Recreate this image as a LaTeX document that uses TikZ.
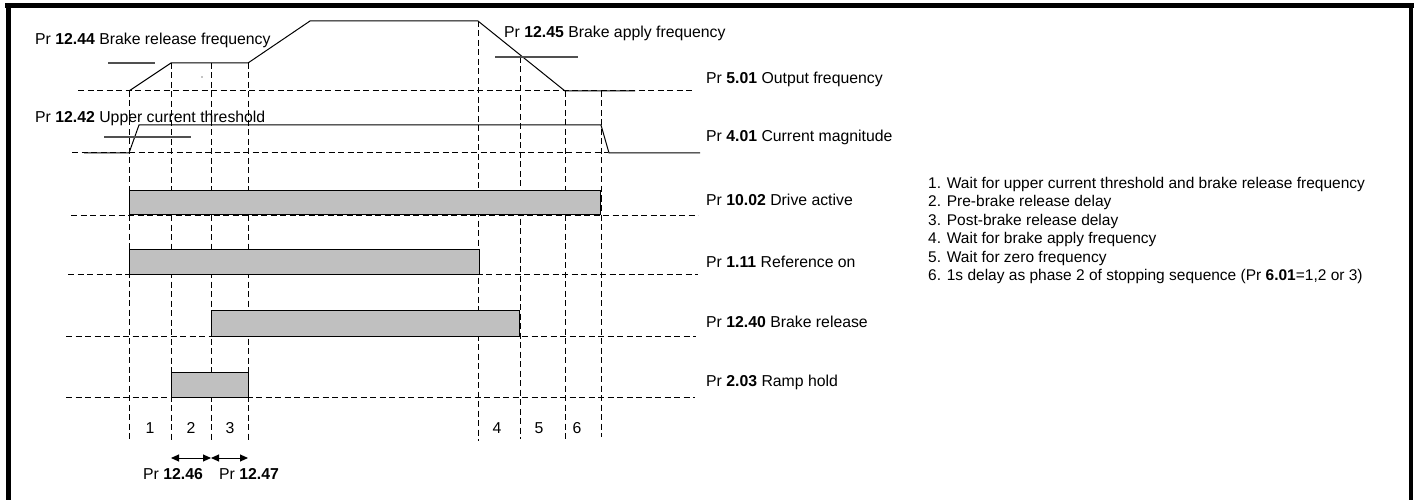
\documentclass[tikz,border=0pt]{standalone}
\usepackage{fontspec}
\setmainfont{Liberation Sans}
\usetikzlibrary{arrows.meta}
\definecolor{barfill}{HTML}{C0C0C0}
\definecolor{thrgray}{HTML}{505050}
\begin{document}
\begin{tikzpicture}[x=1pt,y=-1pt,
  lbl/.style={anchor=west, inner sep=0pt, font=\fontsize{15.8}{18}\selectfont},
  num/.style={inner sep=0pt, font=\fontsize{15.8}{18}\selectfont},
  dsh/.style={line width=1pt, dash pattern=on 6pt off 3.5pt},
  sig/.style={line width=1pt},
  thr/.style={line width=1.2pt, draw=thrgray},
  bar/.style={draw=black, fill=barfill, line width=1pt},
  frame/.style={line width=5pt},
  dim/.style={line width=1pt, {Triangle[length=8pt,width=7pt]}-{Triangle[length=8pt,width=7pt]}}
]
\useasboundingbox (0,0) rectangle (1417,500);
% frame
\coordinate (ftl) at (5,6); \coordinate (ftr) at (1413.5,6);
\coordinate (flt) at (8,3.5); \coordinate (fl) at (8,500);
\coordinate (frt) at (1411,3.5); \coordinate (fr) at (1411,500);
\draw[frame] (ftl) -- (ftr);
\draw[frame] (flt) -- (fl);
\draw[line width=4pt] (frt) -- (fr);

% vertical phase lines
\foreach \n/\x/\t/\b in {1/129/91/440, 2/171/63/440, 3/211/63/440, 4/248/63/440, 5/478/21/441, 6/520/57/439, 7/565/91/439, 8/601/91/437}{
  \coordinate (v\n t) at (\x,\t);
  \coordinate (v\n b) at (\x,\b);
  \draw[dsh] (v\n t) -- (v\n b);
}

% output frequency
\coordinate (ofL) at (78,91); \coordinate (ofR) at (695,91);
\draw[dsh] (ofL) -- (ofR);
\coordinate (of1) at (129,91); \coordinate (of2) at (171,63); \coordinate (of3) at (248,63);
\coordinate (of4) at (310,21); \coordinate (of5) at (478,21); \coordinate (of6) at (565,91);
\coordinate (of7) at (635,91);
\draw[sig] (of1) -- (of2) -- (of3) -- (of4) -- (of5) -- (of6) -- (of7);
\coordinate (brfL) at (108,63); \coordinate (brfR) at (155,63);
\draw[thr] (brfL) -- (brfR);
\coordinate (bafL) at (495,57); \coordinate (bafR) at (578,57);
\draw[thr] (bafL) -- (bafR);
\fill (202,77) circle (0.7pt);

% current magnitude
\coordinate (cmL) at (72,153); \coordinate (cmR) at (608,153);
\draw[dsh] (cmL) -- (cmR);
\coordinate (cm0) at (84,153); \coordinate (cm1) at (129,153); \coordinate (cm2) at (139,125);
\coordinate (cm3) at (601,125); \coordinate (cm4) at (609,153); \coordinate (cm5) at (700,153);
\draw[sig] (cm0) -- (cm1) -- (cm2) -- (cm3) -- (cm4) -- (cm5);
\coordinate (uctL) at (104,137); \coordinate (uctR) at (191,137);
\draw[thr] (uctL) -- (uctR);

% bars
\coordinate (daL) at (71,215); \coordinate (daR) at (698,215);
\draw[dsh] (daL) -- (daR);
\draw[bar] (129,191) rectangle (600,214.5);
\coordinate (roL) at (68,274); \coordinate (roR) at (698,274);
\draw[dsh] (roL) -- (roR);
\draw[bar] (129,249) rectangle (479,274);
\coordinate (brL) at (66,336); \coordinate (brR) at (696,336);
\draw[dsh] (brL) -- (brR);
\draw[bar] (211,310) rectangle (519,336);
\coordinate (rhL) at (66,397); \coordinate (rhR) at (695,397);
\draw[dsh] (rhL) -- (rhR);
\draw[bar] (171,372.5) rectangle (248,397);

% signal labels
\node[lbl] (l501) at (706,79) {Pr \textbf{5.01} Output frequency};
\node[lbl] (l401) at (706,137) {Pr \textbf{4.01} Current magnitude};
\node[lbl] (l1002) at (706,200) {Pr \textbf{10.02} Drive active};
\node[lbl] (l111) at (706,262) {Pr \textbf{1.11} Reference on};
\node[lbl] (l1240) at (706,322) {Pr \textbf{12.40} Brake release};
\node[lbl] (l203) at (706,382) {Pr \textbf{2.03} Ramp hold};
\node[lbl] (l1244) at (35,40) {Pr \textbf{12.44} Brake release frequency};
\node[lbl] (l1242) at (35,118) {Pr \textbf{12.42} Upper current threshold};
\node[lbl] (l1245) at (504,33) {Pr \textbf{12.45} Brake apply frequency};

% phase numbers
\foreach \k/\x in {1/150,2/191,3/230,4/497,5/539,6/577}{
  \node[num] (n\k) at (\x,428) {\k};
}

% delay arrows
\coordinate (a1) at (171,458); \coordinate (a2) at (211,458); \coordinate (a3) at (248,458);
\draw[dim] (a1) -- (a2);
\draw[dim] (a2) -- (a3);
\node[num] (p1246) at (173,474) {Pr \textbf{12.46}};
\node[num] (p1247) at (249,474) {Pr \textbf{12.47}};

% legend
\node[anchor=north west, inner sep=0pt, align=left, font=\fontsize{15.5}{18.5}\selectfont] (legend) at (928,177) {%
1. Wait for upper current threshold and brake release frequency\\
2. Pre-brake release delay\\
3. Post-brake release delay\\
4. Wait for brake apply frequency\\
5. Wait for zero frequency\\
6. 1s delay as phase 2 of stopping sequence (Pr \textbf{6.01}=1,2 or 3)};
\end{tikzpicture}
\end{document}
